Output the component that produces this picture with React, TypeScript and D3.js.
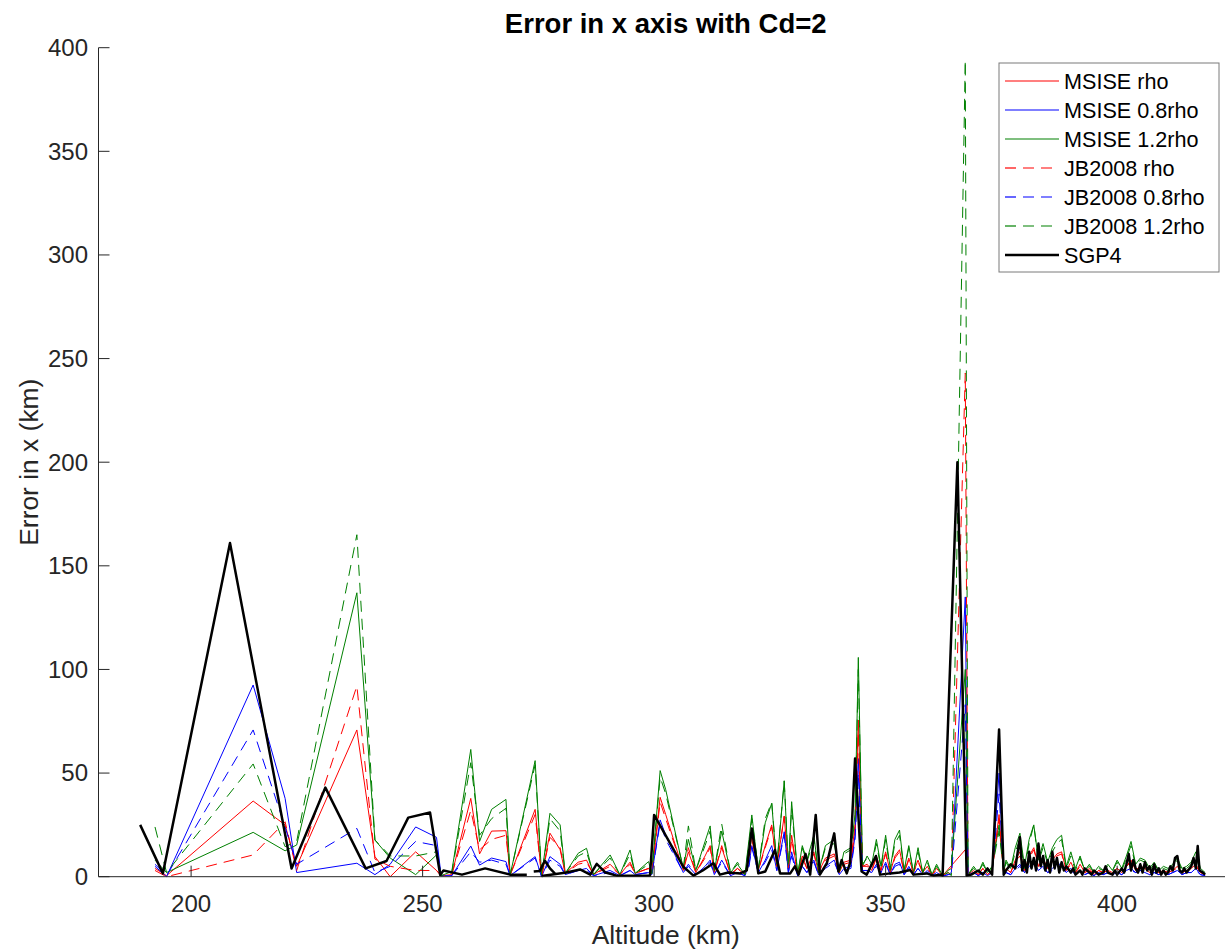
import React from "react";
import * as d3 from "d3";

// chart size (matches reference picture)
const width = 1225;
const height = 952;

// altitudes (km) shared by the six density-model runs
const altModel = [
  192.2, 194.7, 213.4, 220.3, 222.8, 235.8, 239.7, 243, 248.5, 253, 254,
  256.3, 260.4, 262.3, 264.9, 268, 268.9, 274.3, 275.7, 277.5, 279.7, 280.8,
  283.6, 285.4, 286.9, 290.5, 292.6, 294.8, 295.9, 298.8, 299.5, 301.3, 302.5,
  306.3, 307.4, 309, 311, 312.1, 313, 314.6, 316.5, 318, 319.6, 320.5, 321.1,
  322.5, 324, 325.4, 326.5, 328.1, 329, 329.7, 331, 332, 333, 334.5, 335.5,
  337, 338.9, 340, 341, 342.5, 343.4, 344.1, 345, 346, 347, 348, 349, 350,
  351, 352, 353, 354, 355, 356, 357, 358, 359, 360, 361, 362.3, 363.5, 364.2,
  367.2, 367.8, 369, 370, 371, 372, 373, 374.5, 375.5,
  376, 377, 378, 379, 380, 381, 382, 383, 384, 385, 386, 387, 388, 389, 390,
  391, 392, 393, 394, 395, 396, 397, 398, 399, 400, 401, 402, 403, 404, 405,
  406, 407, 408, 409, 410, 411, 412, 413, 414, 415, 416, 417, 418, 419,
];

const msiseRho = [
  4, 0.5, 36.5, 25, 5, 70.8, 9.7, 0, 12, 3, 0.5,
  1, 37.8, 11, 22, 22.2, 0.8, 32.5, 0, 21, 13, 1.6,
  7, 8, 1, 6, 1, 7, 1.6, 4, 1.5, 38.3, 30,
  3, 12, 2, 10, 15, 2, 14, 1, 4, 1, 10, 20,
  3, 15, 25, 5, 29.3, 4, 20, 1, 10, 4, 12, 2,
  9, 11, 2, 7, 8, 25, 75.6, 5, 6, 3, 10, 3, 12,
  2, 10, 13, 2, 9, 2, 8, 2, 5, 1, 4, 0.5, null, null,
  13, 1, 3, 1, 4, 1, 3, 30, 1,
  4, 2, 8, 12, 3, 10, 14, 5, 9, 4, 8, 11, 12, 3, 7,
  2, 6, 2, 4, 1, 3, 2, 3, 2, 4, 2, 5, 8, 3, 5,
  4, 2, 4, 2, 3, 2, 3, 5, 2, 3, 4, 6, 2, 1,
];

const msise08 = [
  5, 0, 92.5, 37.8, 2, 6.5, 1, 6, 24, 19, 0.5,
  0.5, 14.8, 5.6, 9, 7.3, 0.5, 9.7, 0, 9.7, 6, 1,
  3, 4, 0.5, 3, 0.5, 3, 1, 2, 1, 27.4, 20,
  2, 5, 1, 5, 8, 1, 8, 0.5, 2, 0.5, 6, 15,
  2, 8, 15, 3, 21.7, 2, 12, 0.5, 5, 2, 8, 1,
  5, 8, 1, 4, 5, 20, 57, 3, 3, 2, 6, 2, 7,
  1, 6, 7, 1, 5, 1, 4, 1, 3, 0.5, 2, 0.3, 1, 2,
  135, 1, 2, 0.5, 2, 0.5, 2, 50, 1,
  2, 1, 4, 6, 2, 5, 7, 3, 5, 2, 4, 6, 6, 2, 4,
  1, 3, 1, 2, 0.5, 2, 1, 2, 1, 2, 1, 3, 4, 2, 3,
  2, 1, 2, 1, 2, 1, 2, 3, 1, 2, 2, 4, 1, 0.5,
];

const msise12 = [
  8, 2, 21.4, 12.5, 15.3, 137, 17.7, 9, 1, 10.5, 0.5,
  2.5, 61.4, 17, 32.5, 37.3, 0.8, 56, 0.5, 30.6, 25, 1.6,
  11.3, 13.7, 1, 10.5, 1, 12.9, 1.6, 7.3, 1.5, 51.2, 42,
  4, 18, 3, 17, 24.5, 3, 22, 2, 6, 1, 18, 29.8,
  3, 26, 35.4, 5, 46.3, 4, 36.2, 1, 15, 8, 20, 2,
  15, 18, 2, 12, 14, 30, 105.8, 5, 10, 6, 18, 5, 20,
  4, 18, 22.5, 3, 15, 2, 14, 2, 8, 1, 6, 0.5, 3, 4,
  100, 1, 5, 2, 7, 2, 5, 25, 2,
  8, 4, 14, 21, 5, 18, 25, 8, 16, 7, 14, 18, 20, 5, 12,
  4, 10, 3, 6, 2, 5, 3, 6, 3, 8, 4, 10, 17, 6, 9,
  8, 4, 7, 3, 5, 4, 6, 9, 4, 5, 7, 12, 4, 2,
];

const jbRho = [
  3, 0, 10.5, 26.5, 3, 92, 8.5, 5, 3, 3, 0.5,
  1, 32, 13, 18, 20, 0.8, 30, 0, 19, 14, 1.6,
  6, 7, 1, 5, 1, 6, 1.6, 4, 1.5, 36, 28,
  3, 14, 2, 9, 14, 2, 15, 1, 4, 1, 9, 18,
  3, 14, 24, 5, 29, 4, 18, 1, 9, 4, 11, 2,
  8, 10, 2, 6, 7, 22, 70, 5, 5, 3, 9, 3, 11,
  2, 9, 12, 2, 8, 2, 7, 2, 4, 1, 3, 0.5, 2, 1,
  243, 1, 3, 1, 4, 1, 3, 28, 1,
  4, 2, 7, 10, 3, 9, 13, 5, 8, 4, 7, 10, 11, 3, 6,
  2, 5, 2, 3, 1, 3, 2, 3, 2, 4, 2, 5, 7, 3, 5,
  4, 2, 4, 2, 3, 2, 3, 4, 2, 3, 4, 5, 2, 1,
];

const jb08 = [
  6, 0.5, 70.8, 24, 6, 23.3, 2, 5, 17, 15, 0.5,
  0.5, 12, 7, 8, 6, 0.5, 9, 0, 8, 5, 1,
  3, 3, 0.5, 2, 0.5, 3, 1, 2, 1, 26, 18,
  2, 6, 1, 4, 7, 1, 7, 0.5, 2, 0.5, 5, 14,
  2, 7, 13, 3, 20, 2, 10, 0.5, 5, 2, 7, 1,
  4, 7, 1, 3, 4, 18, 50, 3, 3, 2, 5, 2, 6,
  1, 5, 6, 1, 4, 1, 4, 1, 2, 0.5, 2, 0.3, 1, 1,
  83, 1, 2, 0.5, 2, 0.5, 2, 40, 1,
  2, 1, 3, 5, 2, 4, 6, 3, 4, 2, 3, 5, 5, 2, 3,
  1, 3, 1, 2, 0.5, 2, 1, 2, 1, 2, 1, 3, 3, 2, 3,
  2, 1, 2, 1, 2, 1, 2, 3, 1, 2, 2, 3, 1, 0.5,
];

const jb12 = [
  24, 2, 54.4, 14.5, 17, 165, 17.7, 10, 10, 12, 0.5,
  2, 55, 20, 28, 33, 0.8, 54, 0.5, 28, 22, 1.6,
  10, 12, 1, 9, 1, 11, 1.6, 6, 1.5, 48, 40,
  4, 24.5, 3, 15, 22, 3, 25.4, 2, 7, 1, 16, 28,
  4, 28, 36, 6, 46, 5, 33, 1, 14, 7, 18, 2,
  14, 16, 2, 11, 13, 28, 100, 6, 9, 5, 16, 4, 18,
  3, 16, 20, 3, 14, 2, 12, 2, 7, 1, 5, 0.5, 2, 0.5,
  394, 1, 4, 2, 6, 2, 4, 22, 2,
  7, 3, 12, 18, 4, 16, 25, 7, 14, 6, 12, 16, 18, 4, 10,
  3, 9, 3, 5, 2, 4, 3, 5, 3, 7, 3, 9, 15, 5, 8,
  7, 3, 6, 3, 4, 3, 5, 8, 3, 4, 6, 10, 3, 2,
];

// SGP4 propagation has its own altitude samples; null breaks the line
const altSgp4 = [
  189, 193.9, 208.4, 221.7, 229, 237.7, 242.2, 246.9, 251.6, 253.8, 254.5,
  258.5, 263.5, 268.9, 272.5, 272.6, 274, 275.3, 276.4, 277.5, 278.6, 278.7,
  275.7, 281.1, 284, 286.2, 287.6, 289.5, 291.9, 299.1, 300, 306.3, 308.5,
  310.5, 312.8, 314.2, 316, 318.6, 320, 321.1, 322.5, 324, 326.1, 327.2,
  329.4, 330.4, 331.2, 332.7, 333.7, 334.9, 335.8, 337.3, 338.9, 339.8, 340.5,
  341.6, 342.3, 343.4, 344.8, 345.9, 347.9, 348.8, 351, 353, 355.3, 356,
  358.9, 360.3, 361.8, 362.3, 365.5, 367.5, 368.5, 370, 371, 372, 373, 374.5,
  375.5, 376, 377, 378, 379, 379.5, 380, 380.5, 381, 381.5, 382, 382.5, 383,
  383.5, 384, 384.5, 385, 385.5, 386, 386.5, 387, 387.5, 388, 388.5, 389,
  390, 390.5, 391, 392, 392.5, 393, 394, 394.5, 395, 396, 397, 397.5, 398,
  399, 399.5, 400, 401, 401.5, 402, 402.5, 403, 403.5, 404, 404.5, 405,
  405.5, 406, 406.5, 407, 407.5, 408, 408.5, 409, 409.5, 410, 410.5, 411,
  411.5, 412, 412.5, 413, 413.5, 414, 414.5, 415, 416, 416.5, 417, 417.4,
  417.8, 418.5, 419,
];

const sgp4 = [
  25, 1.6, 161, 4, 43, 4, 7.6, 28.5, 31, 0.8, 3,
  1, 4, 1, 1, null, 2.5, 2.8, 7.7, 4, 1.5, null,
  0.3, 2, 3.5, 1, 6.2, 2, 0.5, 0.5, 29.8, 4.8, 0.5,
  3, 6.5, 1, 2, 1.6, 3, 23.3, 1.6, 2.5, 12.9, 1.6,
  1.6, 5, 1, 11, 1, 29.8, 1, 6.5, 20.9, 2.5, 8,
  1.6, 6.5, 57, 2.5, 1, 10, 1, 1.6, 2, 3.2, 1,
  1.6, 0.5, 1, 0.5, 200, 0.5, 1, 3, 1, 4, 1, 71,
  1, 3, 6, 4, 19, 3, 8, 2, 12, 4, 9, 3, 16,
  5, 10, 3, 8, 2, 12, 4, 9, 2, 7, 3, 5,
  2, 4, 1, 3, 1, 4, 2, 1, 3, 1, 2, 5, 2,
  1, 3, 1, 4, 2, 6, 11, 3, 8, 4, 2, 6,
  2, 7, 3, 5, 1, 6, 2, 4, 1, 3, 1, 2,
  5, 3, 9, 10, 3, 2, 4, 2, 5, 9, 4, 14.8,
  3, 2, 1,
];

const legendLabels = [
  "MSISE rho",
  "MSISE 0.8rho",
  "MSISE 1.2rho",
  "JB2008 rho",
  "JB2008 0.8rho",
  "JB2008 1.2rho",
  "SGP4",
];

const xTicks = [200, 250, 300, 350, 400];
const yTicks = [0, 50, 100, 150, 200, 250, 300, 350, 400];

const font = "'Liberation Sans', Arial, Helvetica, sans-serif";
const axisColor = "#262626";

const series = [
  { name: legendLabels[0], values: msiseRho, color: "#ff0000", dash: null },
  { name: legendLabels[1], values: msise08, color: "#0000ff", dash: null },
  { name: legendLabels[2], values: msise12, color: "#008000", dash: null },
  { name: legendLabels[3], values: jbRho, color: "#ff0000", dash: "11,7" },
  { name: legendLabels[4], values: jb08, color: "#0000ff", dash: "11,7" },
  { name: legendLabels[5], values: jb12, color: "#008000", dash: "11,7" },
];

export default function App() {
  const x = d3.scaleLinear().domain([180, 425]).range([98.5, 1232.9]);
  const y = d3.scaleLinear().domain([0, 400]).range([876.7, 47.7]);

  const line = d3
    .line<[number, number | null]>()
    .defined((d) => d[1] != null)
    .x((d) => x(d[0]))
    .y((d) => y(d[1] as number));

  // model runs: missing samples are simply skipped (line joins neighbours)
  const modelPaths = series.map((s) => {
    const pts = altModel
      .map((a, i) => [a, s.values[i]] as [number, number | null])
      .filter((p) => p[1] != null);
    return { ...s, d: line(pts) };
  });

  const sgpPath = line(altSgp4.map((a, i) => [a, sgp4[i]] as [number, number | null]));

  const x0 = x(180);
  const y0 = y(0);
  const tickLen = 11;

  // legend
  const lgX = 999;
  const lgY = 63;
  const lgW = 220;
  const lgH = 209;
  const lgRow = 29;
  const legendItems = [
    ...series.map((s) => ({ name: s.name, color: s.color, dash: s.dash, w: 1.2 })),
    { name: legendLabels[6], color: "#000000", dash: null, w: 2.5 },
  ];

  return (
    <svg
      width={width}
      height={height}
      style={{ position: "absolute", left: 0, top: 0, background: "#fff" }}
      fontFamily={font}
    >
      <rect x={0} y={0} width={width} height={height} fill="#fff" />

      {/* data */}
      <g fill="none">
        {modelPaths.map((p) => (
          <path
            key={p.name}
            d={p.d ?? ""}
            stroke={p.color}
            strokeWidth={1}
            strokeDasharray={p.dash ?? undefined}
            strokeLinejoin="round"
          />
        ))}
        <path d={sgpPath ?? ""} stroke="#000" strokeWidth={2.5} strokeLinejoin="round" />
      </g>

      {/* axes */}
      <line x1={x0} x2={width} y1={y0} y2={y0} stroke={axisColor} strokeWidth={1} />
      <line x1={x0} x2={x0} y1={y0} y2={y(400)} stroke={axisColor} strokeWidth={1} />
      {xTicks.map((t) => (
        <g key={"x" + t}>
          <line x1={x(t)} x2={x(t)} y1={y0} y2={y0 - tickLen} stroke={axisColor} />
          <text x={x(t)} y={912} textAnchor="middle" fontSize={24} fill={axisColor}>
            {t}
          </text>
        </g>
      ))}
      {yTicks.map((t) => (
        <g key={"y" + t}>
          <line x1={x0} x2={x0 + tickLen} y1={y(t)} y2={y(t)} stroke={axisColor} />
          <text
            x={88}
            y={y(t)}
            dy="0.35em"
            textAnchor="end"
            fontSize={24}
            fill={axisColor}
          >
            {t}
          </text>
        </g>
      ))}

      {/* labels */}
      <text x={665.7} y={33} textAnchor="middle" fontSize={27.5} fontWeight="bold" fill="#000">
        Error in x axis with Cd=2
      </text>
      <text x={665.7} y={944} textAnchor="middle" fontSize={26.4} fill={axisColor}>
        Altitude (km)
      </text>
      <text
        transform={`translate(38, ${(y(0) + y(400)) / 2}) rotate(-90)`}
        textAnchor="middle"
        fontSize={26.4}
        fill={axisColor}
      >
        Error in x (km)
      </text>

      {/* legend */}
      <rect x={lgX} y={lgY} width={lgW} height={lgH} fill="#fff" stroke="#7a7a7a" strokeWidth={1} />
      {legendItems.map((it, i) => {
        const cy = lgY + 18 + i * lgRow;
        return (
          <g key={it.name}>
            <line
              x1={lgX + 6}
              x2={lgX + 60}
              y1={cy}
              y2={cy}
              stroke={it.color}
              strokeWidth={it.w}
              strokeDasharray={it.dash ?? undefined}
            />
            <text x={lgX + 65} y={cy} dy="0.35em" fontSize={21.6} fill="#000">
              {it.name}
            </text>
          </g>
        );
      })}
    </svg>
  );
}
